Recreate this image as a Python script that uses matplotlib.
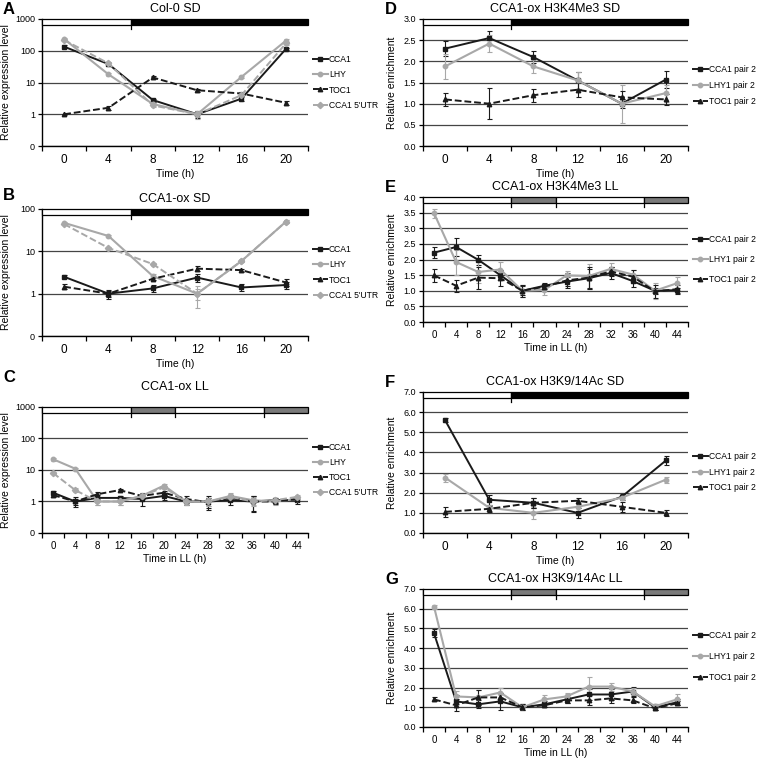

# Clock gene expression and histone marks in CCA1-ox plants
# (1) data for each panel A-G
# (2) helpers that draw one Excel style panel
# (3) build the figure and save out.png

import matplotlib.pyplot as plt
from matplotlib.patches import Rectangle
from matplotlib.ticker import NullLocator
from matplotlib.transforms import blended_transform_factory

plt.rcParams['font.family'] = ['Liberation Sans', 'DejaVu Sans']

sd_hours = [0, 4, 8, 12, 16, 20]
ll_hours = [0, 4, 8, 12, 16, 20, 24, 28, 32, 36, 40, 44]

expr_labels = ['CCA1', 'LHY', 'TOC1', "CCA1 5'UTR"]
chip_labels = ['CCA1 pair 2', 'LHY1 pair 2', 'TOC1 pair 2']

# light schedule: (start, end, kind)
sd_light = [(-2, 6, 'light'), (6, 22, 'dark')]
ll_light = [(-2, 14, 'light'), (14, 22, 'subj'), (22, 38, 'light'), (38, 46, 'subj')]

# A  Col-0 SD
a_cca1 = [134, 38, 2.8, 1.0, 3.1, 113]
a_lhy = [233, 18, 2.1, 1.0, 15, 207]
a_toc1 = [1.0, 1.6, 14.4, 5.7, 4.5, 2.3]
a_utr = [217, 40, 1.9, 1.0, 4.0, 170]
a_cca1_err = [15, 4, 0.3, 0.25, 0.4, 10]
a_lhy_err = [20, 2, 0.2, 0.2, 1.5, 20]
a_toc1_err = [0.05, 0.2, 1.5, 0.5, 0.4, 0.3]
a_utr_err = [20, 4, 0.2, 0.3, 0.4, 15]

# B  CCA1-ox SD
b_cca1 = [2.5, 1.0, 1.33, 2.4, 1.4, 1.6]
b_lhy = [47, 23, 2.6, 1.0, 5.9, 50]
b_toc1 = [1.46, 1.0, 2.25, 3.9, 3.6, 1.84]
b_utr = [44, 12, 5.0, 1.0, 5.9, 50]
b_cca1_err = [0.2, 0.15, 0.25, 0.5, 0.25, 0.3]
b_lhy_err = [3, 1.5, 0.3, 0.55, 0.4, 4]
b_toc1_err = [0.2, 0.25, 0.2, 0.5, 0.3, 0.35]
b_utr_err = [3, 1, 0.4, 0.3, 0.4, 4]

# C  CCA1-ox LL
c_cca1 = [1.9, 1.0, 1.3, 1.3, 1.2, 1.5, 1.0, 1.0, 1.1, 1.0, 1.1, 1.1]
c_lhy = [22, 11, 1.0, 1.0, 1.5, 3.2, 1.0, 1.0, 1.5, 1.1, 1.0, 1.2]
c_toc1 = [1.6, 1.0, 1.7, 2.3, 1.5, 1.9, 1.2, 0.95, 1.3, 1.0, 1.0, 1.2]
c_utr = [8.0, 2.3, 1.0, 1.0, 1.5, 2.8, 1.0, 1.0, 1.4, 1.0, 1.1, 1.4]
c_cca1_err = [0.2, 0.35, 0.3, 0.25, 0.5, 0.35, 0.2, 0.45, 0.3, 0.55, 0.2, 0.25]
c_lhy_err = [2, 1, 0.2, 0.2, 0.2, 0.3, 0.2, 0.3, 0.4, 0.3, 0.2, 0.2]
c_toc1_err = [0.2, 0.2, 0.3, 0.2, 0.3, 0.3, 0.3, 0.35, 0.3, 0.5, 0.15, 0.2]
c_utr_err = [0.8, 0.3, 0.2, 0.2, 0.2, 0.3, 0.15, 0.3, 0.3, 0.3, 0.2, 0.2]

# D  H3K4Me3 SD
d_cca1 = [2.3, 2.55, 2.1, 1.55, 1.0, 1.57]
d_lhy = [1.88, 2.42, 1.88, 1.55, 1.0, 1.25]
d_toc1 = [1.1, 1.0, 1.2, 1.33, 1.15, 1.1]
d_cca1_err = [0.17, 0.17, 0.15, 0.2, 0.1, 0.2]
d_lhy_err = [0.3, 0.2, 0.15, 0.2, 0.45, 0.2]
d_toc1_err = [0.15, 0.37, 0.15, 0.18, 0.15, 0.12]

# E  H3K4Me3 LL
e_cca1 = [2.22, 2.4, 1.99, 1.5, 1.0, 1.16, 1.29, 1.4, 1.57, 1.31, 1.0, 1.02]
e_lhy = [3.48, 1.92, 1.6, 1.68, 1.0, 1.03, 1.49, 1.47, 1.7, 1.52, 1.0, 1.24]
e_toc1 = [1.49, 1.16, 1.42, 1.4, 1.0, 1.13, 1.33, 1.42, 1.62, 1.45, 0.98, 1.05]
e_cca1_err = [0.18, 0.28, 0.15, 0.12, 0.15, 0.08, 0.15, 0.3, 0.2, 0.2, 0.1, 0.08]
e_lhy_err = [0.15, 0.4, 0.35, 0.25, 0.2, 0.15, 0.15, 0.4, 0.2, 0.15, 0.25, 0.2]
e_toc1_err = [0.22, 0.2, 0.35, 0.25, 0.2, 0.08, 0.25, 0.35, 0.15, 0.2, 0.22, 0.15]

# F  H3K9/14Ac SD
f_cca1 = [5.6, 1.65, 1.5, 1.0, 1.8, 3.6]
f_lhy = [2.75, 1.25, 1.0, 1.3, 1.75, 2.65]
f_toc1 = [1.05, 1.2, 1.5, 1.6, 1.3, 1.0]
f_cca1_err = [0.1, 0.25, 0.25, 0.25, 0.15, 0.2]
f_lhy_err = [0.2, 0.15, 0.3, 0.2, 0.1, 0.15]
f_toc1_err = [0.25, 0.15, 0.25, 0.15, 0.25, 0.15]

# G  H3K9/14Ac LL
g_cca1 = [4.75, 1.3, 1.15, 1.3, 1.0, 1.15, 1.4, 1.65, 1.65, 1.8, 1.0, 1.25]
g_lhy = [6.1, 1.55, 1.5, 1.75, 1.0, 1.4, 1.55, 2.05, 2.05, 1.8, 1.05, 1.4]
g_toc1 = [1.4, 1.1, 1.5, 1.5, 1.0, 1.1, 1.35, 1.35, 1.45, 1.35, 0.95, 1.2]
g_cca1_err = [0.2, 0.3, 0.2, 0.45, 0.15, 0.15, 0.2, 0.3, 0.3, 0.25, 0.15, 0.15]
g_lhy_err = [0.1, 0.3, 0.4, 0.25, 0.15, 0.2, 0.15, 0.5, 0.2, 0.2, 0.1, 0.25]
g_toc1_err = [0.1, 0.3, 0.4, 0.2, 0.15, 0.1, 0.15, 0.25, 0.25, 0.15, 0.1, 0.1]

BLACK = '#1a1a1a'
GRAY = '#a8a8a8'
STYLES = [
    dict(color=BLACK, ls='-', marker='s', lw=1.4),
    dict(color=GRAY, ls='-', marker='o', lw=1.5),
    dict(color=BLACK, ls=(0, (3.5, 1.5)), marker='^', lw=1.4),
    dict(color=GRAY, ls=(0, (3.5, 1.5)), marker='D', lw=1.4),
]
BAR_COLORS = {'light': 'white', 'dark': 'black', 'subj': '#7a7a7a'}

FIG_W, FIG_H = 758, 761


def pixelBox(left, top, right, bottom):
    """axes rectangle from pixel edges of the reference"""
    return [left / FIG_W, 1 - bottom / FIG_H, (right - left) / FIG_W, (bottom - top) / FIG_H]


def drawLightBar(ax, schedule):
    trans = blended_transform_factory(ax.transData, ax.transAxes)
    frac = 6.0 / (ax.get_position().height * FIG_H)
    for start, end, kind in schedule:
        ax.add_patch(Rectangle((start, 1 - frac), end - start, frac, transform=trans,
                               facecolor=BAR_COLORS[kind], edgecolor='black', lw=0.9,
                               clip_on=False, zorder=5))
    for start, end, kind in schedule[1:]:
        ax.plot([start, start], [1 - 1.6 * frac, 1 - frac], transform=trans, color='black',
                lw=0.9, clip_on=False, zorder=5)


def drawPanel(ax, hours, series, errors, labels, schedule, title, xlabel, ylabel,
              log_top=None, lin_top=None, lin_step=None, spacing=0.6, legend_y=0.5,
              xfont=8.5, title_pad=5):
    for values, err, label, style in zip(series, errors, labels, STYLES):
        ax.errorbar(hours, values, yerr=err, fmt='none', ecolor=style['color'],
                    elinewidth=0.8, capsize=1.8, capthick=0.8, zorder=3)
        ax.plot(hours, values, color=style['color'], ls=style['ls'], lw=style['lw'],
                marker=style['marker'], ms=3.2, label=label, zorder=4)

    if log_top is not None:
        ax.set_yscale('log')
        ax.set_ylim(0.1, log_top)
        ticks = [0.1]
        while ticks[-1] < log_top * 0.99:
            ticks.append(ticks[-1] * 10)
        ax.set_yticks(ticks)
        ax.set_yticklabels(['0'] + ['%d' % round(t) for t in ticks[1:]])
        ax.yaxis.set_minor_locator(NullLocator())
    else:
        ax.set_ylim(0, lin_top)
        n = int(round(lin_top / lin_step))
        ticks = [i * lin_step for i in range(n + 1)]
        ax.set_yticks(ticks)
        ax.set_yticklabels(['%.1f' % t for t in ticks])

    step = hours[1] - hours[0]
    ax.set_xlim(hours[0] - step / 2, hours[-1] + step / 2)
    ax.set_xticks(hours)
    ax.set_xticklabels([str(h) for h in hours])
    ax.set_xticks([h - step / 2 for h in hours] + [hours[-1] + step / 2], minor=True)
    ax.tick_params(axis='x', which='major', length=0, labelsize=xfont, pad=6)
    ax.tick_params(axis='x', which='minor', length=3.5, width=0.9, direction='out')
    ax.tick_params(axis='y', length=3, width=0.9, labelsize=6.5, pad=2)

    ax.yaxis.grid(True, color='#454545', lw=0.9)
    ax.set_axisbelow(True)
    for side in ['top', 'right']:
        ax.spines[side].set_visible(False)
    for side in ['left', 'bottom']:
        ax.spines[side].set_linewidth(1.0)

    drawLightBar(ax, schedule)
    ax.set_title(title, fontsize=9, pad=title_pad)
    ax.set_xlabel(xlabel, fontsize=7.5, labelpad=2)
    ax.set_ylabel(ylabel, fontsize=7.5)
    ax.legend(loc='center left', bbox_to_anchor=(1.0, legend_y), frameon=False,
              fontsize=6.2, handlelength=1.7, handletextpad=0.15, labelspacing=spacing,
              borderaxespad=0.2)


fig = plt.figure(figsize=(FIG_W / 100, FIG_H / 100), dpi=100)

axA = fig.add_axes(pixelBox(42, 19, 308, 146))
drawPanel(axA, sd_hours, [a_cca1, a_lhy, a_toc1, a_utr],
          [a_cca1_err, a_lhy_err, a_toc1_err, a_utr_err], expr_labels, sd_light,
          'Col-0 SD', 'Time (h)', 'Relative expression level', log_top=1000, spacing=0.7,
          legend_y=0.5)

axB = fig.add_axes(pixelBox(42, 209, 308, 336))
drawPanel(axB, sd_hours, [b_cca1, b_lhy, b_toc1, b_utr],
          [b_cca1_err, b_lhy_err, b_toc1_err, b_utr_err], expr_labels, sd_light,
          'CCA1-ox SD', 'Time (h)', 'Relative expression level', log_top=100, spacing=0.7,
          legend_y=0.5)

axC = fig.add_axes(pixelBox(42, 407, 308, 533))
drawPanel(axC, ll_hours, [c_cca1, c_lhy, c_toc1, c_utr],
          [c_cca1_err, c_lhy_err, c_toc1_err, c_utr_err], expr_labels, ll_light,
          'CCA1-ox LL', 'Time in LL (h)', 'Relative expression level', log_top=1000,
          spacing=0.7, legend_y=0.5, xfont=7, title_pad=12)

axD = fig.add_axes(pixelBox(423, 19, 688, 146))
drawPanel(axD, sd_hours, [d_cca1, d_lhy, d_toc1], [d_cca1_err, d_lhy_err, d_toc1_err],
          chip_labels, sd_light, 'CCA1-ox H3K4Me3 SD', 'Time (h)', 'Relative enrichment',
          lin_top=3.0, lin_step=0.5, spacing=0.85, legend_y=0.475)

axE = fig.add_axes(pixelBox(423, 197, 688, 322))
drawPanel(axE, ll_hours, [e_cca1, e_lhy, e_toc1], [e_cca1_err, e_lhy_err, e_toc1_err],
          chip_labels, ll_light, 'CCA1-ox H3K4Me3 LL', 'Time in LL (h)', 'Relative enrichment',
          lin_top=4.0, lin_step=0.5, spacing=1.3, legend_y=0.5, xfont=7)

axF = fig.add_axes(pixelBox(423, 392, 688, 533))
drawPanel(axF, sd_hours, [f_cca1, f_lhy, f_toc1], [f_cca1_err, f_lhy_err, f_toc1_err],
          chip_labels, sd_light, 'CCA1-ox H3K9/14Ac SD', 'Time (h)', 'Relative enrichment',
          lin_top=7.0, lin_step=1.0, spacing=0.75, legend_y=0.43)

axG = fig.add_axes(pixelBox(423, 589, 688, 727))
drawPanel(axG, ll_hours, [g_cca1, g_lhy, g_toc1], [g_cca1_err, g_lhy_err, g_toc1_err],
          chip_labels, ll_light, 'CCA1-ox H3K9/14Ac LL', 'Time in LL (h)', 'Relative enrichment',
          lin_top=7.0, lin_step=1.0, spacing=1.35, legend_y=0.51, xfont=7)

for ax in [axA, axB, axC]:
    ax.yaxis.set_label_coords(-0.115, 0.5)
for ax in [axD, axE, axF, axG]:
    ax.yaxis.set_label_coords(-0.1, 0.5)

for letter, x, y in [('A', 3, 9), ('B', 3, 195), ('C', 3, 377),
                     ('D', 385, 9), ('E', 385, 188), ('F', 385, 382), ('G', 385, 580)]:
    fig.text(x / FIG_W, 1 - y / FIG_H, letter, fontsize=12, fontweight='bold',
             va='center', ha='left')

fig.savefig('out.png', dpi=100)
